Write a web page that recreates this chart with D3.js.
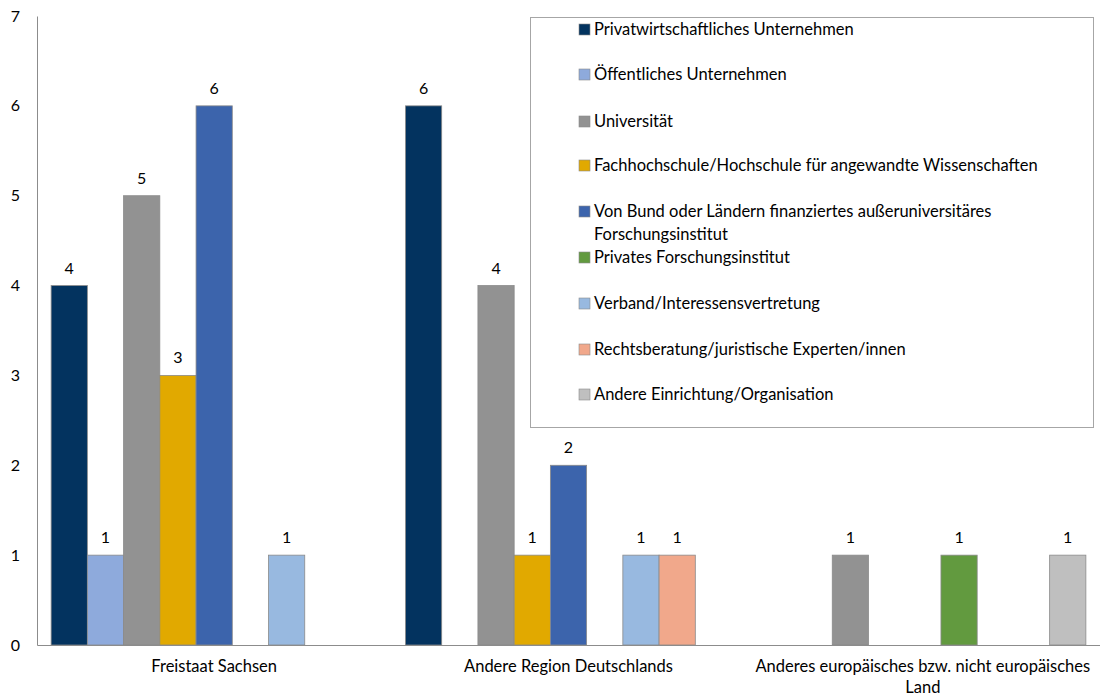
<!DOCTYPE html>
<html>
<head>
<meta charset="utf-8">
<script src="https://cdn.jsdelivr.net/npm/d3@7"></script>
<style>
  html, body { margin: 0; padding: 0; background: #fff; }
  svg text { font-family: Lato, "Open Sans", sans-serif; fill: #000; }
</style>
</head>
<body>
<svg id="chart" width="1100" height="700"></svg>
<script>
// Regions (x categories)
const regions = [
  "Freistaat Sachsen",
  "Andere Region Deutschlands",
  "Anderes europäisches bzw. nicht europäisches Land"
];
// Institution types (series)
const seriesNames = [
  "Privatwirtschaftliches Unternehmen",
  "Öffentliches Unternehmen",
  "Universität",
  "Fachhochschule/Hochschule für angewandte Wissenschaften",
  "Von Bund oder Ländern finanziertes außeruniversitäres Forschungsinstitut",
  "Privates Forschungsinstitut",
  "Verband/Interessensvertretung",
  "Rechtsberatung/juristische Experten/innen",
  "Andere Einrichtung/Organisation"
];
const seriesColors = [
  "#03335f", "#8eaadc", "#929292", "#e1a900", "#3c64ac",
  "#629a3f", "#98b9e0", "#f1a88b", "#bfbfbf"
];
// counts per region, in series order (null = no entry)
const valuesSachsen  = [4, 1, 5, 3, 6, null, 1, null, null];
const valuesDeutschland = [6, null, 4, 1, 2, null, 1, 1, null];
const valuesAusland  = [null, null, 1, null, null, 1, null, null, 1];
const yTicks = [0, 1, 2, 3, 4, 5, 6, 7];

const regionValues = [valuesSachsen, valuesDeutschland, valuesAusland];

const svg = d3.select("#chart");
const m = { left: 37, right: 1100, top: 16, bottom: 645 };

const x0 = d3.scaleBand().domain(regions).range([m.left, m.right]).paddingInner(0).paddingOuter(0);
const x1 = d3.scaleBand().domain(d3.range(seriesNames.length))
  .range([0, x0.bandwidth()]).paddingInner(0).paddingOuter(0.39);
const y = d3.scaleLinear().domain([0, 7]).range([m.bottom, m.top]);

// y axis labels (no ticks)
const yAxis = svg.append("g").attr("transform", `translate(${m.left},0)`)
  .call(d3.axisLeft(y).tickValues(yTicks).tickSize(0).tickPadding(17).tickFormat(d3.format("d")));
yAxis.select(".domain").attr("stroke", "#8c8c8c");
yAxis.selectAll("text").style("font-size", "16px").style("font-family", "Lato, sans-serif");

// bars
const groups = svg.append("g").selectAll("g")
  .data(regions).join("g")
  .attr("transform", d => `translate(${x0(d)},0)`);

groups.each(function(region, ri) {
  const g = d3.select(this);
  const data = regionValues[ri].map((v, i) => ({ i, v })).filter(d => d.v != null);
  g.selectAll("rect").data(data).join("rect")
    .attr("x", d => x1(d.i))
    .attr("width", x1.bandwidth())
    .attr("y", d => y(d.v))
    .attr("height", d => y(0) - y(d.v))
    .attr("fill", d => seriesColors[d.i])
    .attr("stroke", "#8a8a8a")
    .attr("stroke-width", 0.8);
  g.selectAll("text.val").data(data).join("text")
    .attr("class", "val")
    .attr("x", d => x1(d.i) + x1.bandwidth() / 2)
    .attr("y", d => y(d.v) - 12)
    .attr("text-anchor", "middle")
    .style("font-size", "16px")
    .text(d => d.v);
});

// x axis
const xAxis = svg.append("g").attr("transform", `translate(0,${m.bottom})`)
  .call(d3.axisBottom(x0).tickSize(0).tickPadding(0).tickFormat(""));
xAxis.select(".domain").attr("stroke", "#8c8c8c");

// category labels, wrapped where needed
const catLines = [
  ["Freistaat Sachsen"],
  ["Andere Region Deutschlands"],
  ["Anderes europäisches bzw. nicht europäisches", "Land"]
];
regions.forEach((r, i) => {
  const t = svg.append("text")
    .attr("x", x0(r) + x0.bandwidth() / 2)
    .attr("y", 672)
    .attr("text-anchor", "middle")
    .style("font-size", "16.5px");
  catLines[i].forEach((line, k) => {
    t.append("tspan").attr("x", x0(r) + x0.bandwidth() / 2).attr("dy", k === 0 ? 0 : 21).text(line);
  });
});

// legend
const legend = svg.append("g");
legend.append("rect")
  .attr("x", 530.5).attr("y", 17.5).attr("width", 563).attr("height", 410)
  .attr("fill", "#fff").attr("stroke", "#a6a6a6").attr("stroke-width", 1);
const legendLines = [
  ["Privatwirtschaftliches Unternehmen"],
  ["Öffentliches Unternehmen"],
  ["Universität"],
  ["Fachhochschule/Hochschule für angewandte Wissenschaften"],
  ["Von Bund oder Ländern finanziertes außeruniversitäres", "Forschungsinstitut"],
  ["Privates Forschungsinstitut"],
  ["Verband/Interessensvertretung"],
  ["Rechtsberatung/juristische Experten/innen"],
  ["Andere Einrichtung/Organisation"]
];
const legendY = [29, 74, 121, 165, 211, 257, 303, 349, 394];
seriesNames.forEach((s, i) => {
  legend.append("rect")
    .attr("x", 579).attr("y", legendY[i] - 5).attr("width", 11).attr("height", 11)
    .attr("fill", seriesColors[i]).attr("stroke", "#8a8a8a").attr("stroke-width", 0.6);
  const t = legend.append("text").attr("x", 594).attr("y", legendY[i] + 6)
    .style("font-size", "16.5px");
  legendLines[i].forEach((line, k) => {
    t.append("tspan").attr("x", 594).attr("dy", k === 0 ? 0 : 23).text(line);
  });
});
</script>
</body>
</html>
